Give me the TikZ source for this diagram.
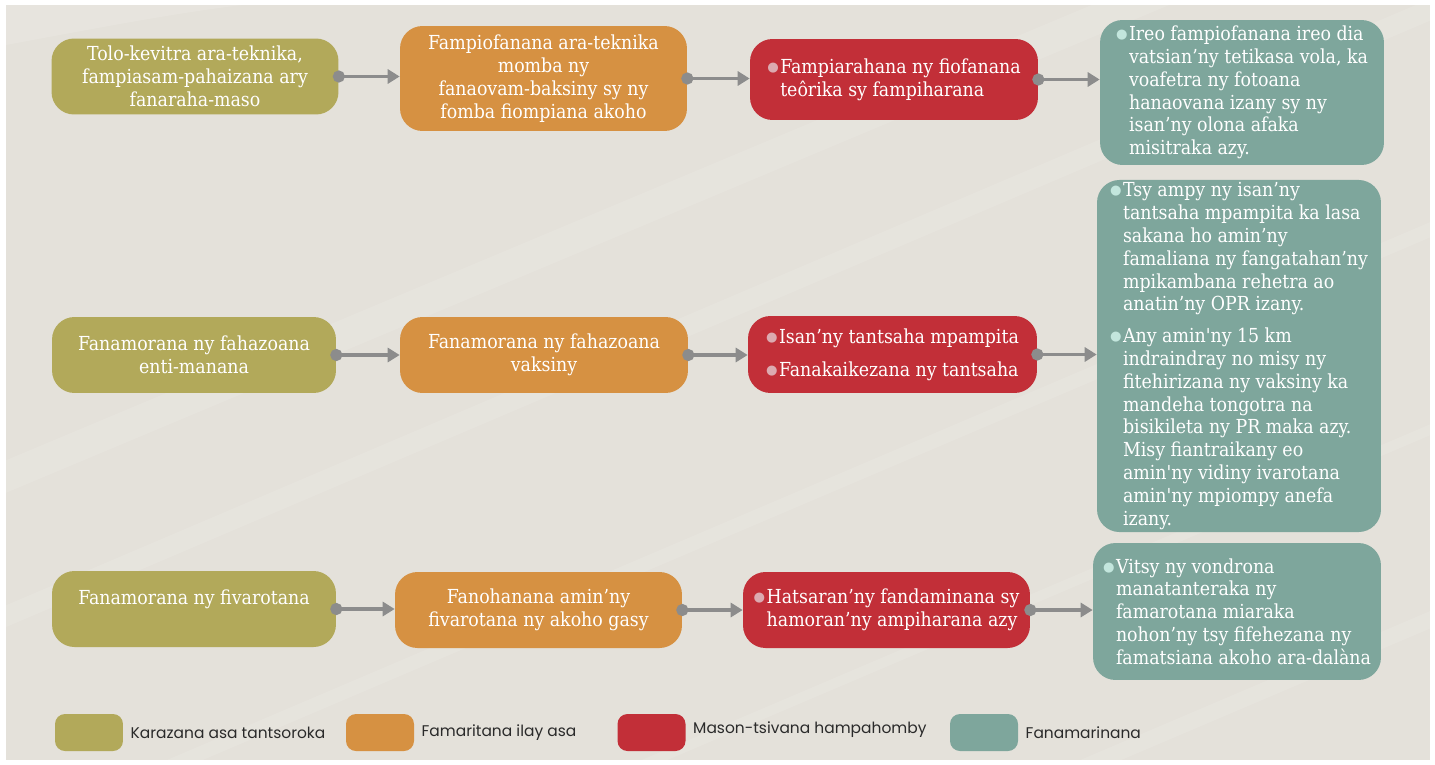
\documentclass[tikz,border=0pt]{standalone}
\usepackage{fontspec}
\newfontfamily\boxfont{DejaVu Serif Condensed}
\newfontfamily\legfont{Poppins}
\newfontfamily\dotfont{DejaVu Sans}
\usetikzlibrary{arrows.meta,positioning}

\definecolor{bgsand}{HTML}{E4E1DA}
\definecolor{colOlive}{HTML}{B2A95A}
\definecolor{colOrange}{HTML}{D69142}
\definecolor{colRed}{HTML}{C22F38}
\definecolor{colTeal}{HTML}{7EA69C}
\definecolor{dotRed}{HTML}{DCAAB0}
\definecolor{dotTeal}{HTML}{C3E6DD}
\definecolor{linkgray}{HTML}{8C8C8C}
\definecolor{legink}{HTML}{2A2A2A}

\newcommand\boxtext{\boxfont\fontsize{11}{13}\selectfont}
\newcommand\bdot[1]{\makebox[0.26cm][l]{\textcolor{#1}{\raisebox{0.2ex}{\dotfont\fontsize{7.5}{8}\selectfont ●}}}}
\newcommand\dotpad{\hspace*{0.26cm}}

\tikzset{
    stepbox/.style={rounded corners=0.45cm, text=white, font=\boxtext, align=center,
                    minimum width=5.74cm, minimum height=1.52cm, inner sep=0.12cm},
    kindbox/.style={stepbox, fill=colOlive},
    specbox/.style={stepbox, fill=colOrange},
    filtbox/.style={stepbox, fill=colRed, align=left},
    notebox/.style={stepbox, fill=colTeal, align=left, minimum width=5.68cm, inner ysep=0.05cm},
    keybox/.style={rounded corners=0.2cm, minimum width=1.36cm, minimum height=0.74cm},
    keytext/.style={text=legink, font=\legfont\fontsize{8.8}{10}\selectfont, inner sep=0pt}
}

\begin{document}
\begin{tikzpicture}[x=0.02cm, y=-0.02cm]
\useasboundingbox (0,0) rectangle (1435,764);

% background
\fill[bgsand] (6,5) rectangle (1430,760);
\begin{scope}
    \clip (6,5) rectangle (1430,760);
    \fill[white, opacity=0.12] (6,45) .. controls (300,-10) .. (700,5) -- (6,5) -- cycle;
    \foreach \sy/\ey/\w in {500/-150/30, 640/-20/20, 860/200/14, 1060/400/10, 1250/590/16}
        \draw[white, opacity=0.1, line width={\w*0.02cm}] (-50,\sy) -- (1500,\ey);
\end{scope}

\begin{scope}
    % row 1
    \node[kindbox] (c1) at (195,76.5) {Tolo-kevitra ara-teknika,\\ fampiasam-pahaizana ary\\ fanaraha-maso};
    \node[specbox, minimum height=2.1cm] (b1) at (543.5,78.5) {Fampiofanana ara-teknika\\ momba ny\\ fanaovam-baksiny sy ny\\ fomba fiompiana akoho};
    \node[filtbox, minimum width=5.76cm, minimum height=1.62cm] (r1) at (894,79.5) {\bdot{dotRed}Fampiarahana ny fiofanana\\ \dotpad teôrika sy fampiharana};
    \node[notebox, minimum height=2.9cm] (t1) at (1242,92.5) {\bdot{dotTeal}Ireo fampiofanana ireo dia\\ \dotpad vatsian’ny tetikasa vola, ka\\ \dotpad voafetra ny fotoana\\ \dotpad hanaovana izany sy ny\\ \dotpad isan’ny olona afaka\\ \dotpad misitraka azy.};

    % row 2
    \node[kindbox, minimum width=5.68cm] (c2) at (194,355) {Fanamorana ny fahazoana\\ enti-manana};
    \node[specbox, minimum width=5.76cm] (b2) at (544,355) {Fanamorana ny fahazoana\\ vaksiny};
    \node[filtbox, minimum width=5.78cm, minimum height=1.54cm] (r2) at (892.5,354.5) {\bdot{dotRed}Isan’ny tantsaha mpampita\\[6pt] \bdot{dotRed}Fanakaikezana ny tantsaha};
    \node[notebox, minimum height=7.04cm] (t2) at (1239,356) {\bdot{dotTeal}Tsy ampy ny isan’ny\\ \dotpad tantsaha mpampita ka lasa\\ \dotpad sakana ho amin’ny\\ \dotpad famaliana ny fangatahan’ny\\ \dotpad mpikambana rehetra ao\\ \dotpad anatin’ny OPR izany.\\[5pt] \bdot{dotTeal}Any amin'ny 15 km\\ \dotpad indraindray no misy ny\\ \dotpad fitehirizana ny vaksiny ka\\ \dotpad mandeha tongotra na\\ \dotpad bisikileta ny PR maka azy.\\ \dotpad Misy fiantraikany eo\\ \dotpad amin'ny vidiny ivarotana\\ \dotpad amin'ny mpiompy anefa\\ \dotpad izany.};

    % row 3
    \node[kindbox, minimum width=5.68cm] (c3) at (194,609) {Fanamorana ny fivarotana\\ \mbox{}};
    \node[specbox] (b3) at (538.5,610) {Fanohanana amin’ny\\ fivarotana ny akoho gasy};
    \node[filtbox] (r3) at (886.5,610) {\bdot{dotRed}Hatsaran’ny fandaminana sy\\ \dotpad hamoran’ny ampiharana azy};
    \node[notebox, minimum width=5.76cm, minimum height=2.74cm] (t3) at (1237,611.5) {\bdot{dotTeal}Vitsy ny vondrona\\ \dotpad manatanteraka ny\\ \dotpad famarotana miaraka\\ \dotpad nohon’ny tsy fifehezana ny\\ \dotpad famatsiana akoho ara-dalàna};
\end{scope}

\begin{scope}[>={Triangle[length=0.24cm,width=0.28cm]},
              every edge/.style={draw=linkgray, line width=0.07cm, shorten <=-0.12cm}]
    \path [{Circle[length=0.24cm]}->] (c1.east) edge (c1.east -| b1.west);
    \path [{Circle[length=0.24cm]}->] (b1.east) edge (b1.east -| r1.west);
    \path [{Circle[length=0.24cm]}->] (r1.east) edge (r1.east -| t1.west);

    \path [{Circle[length=0.24cm]}->] (c2.east) edge (c2.east -| b2.west);
    \path [{Circle[length=0.24cm]}->] (b2.east) edge (b2.east -| r2.west);
    \path [{Circle[length=0.24cm]}->] (r2.east) edge (r2.east -| t2.west);

    \path [{Circle[length=0.24cm]}->] (c3.east) edge (c3.east -| b3.west);
    \path [{Circle[length=0.24cm]}->] (b3.east) edge (b3.east -| r3.west);
    \path [{Circle[length=0.24cm]}->] (r3.east) edge (r3.east -| t3.west);
\end{scope}

% legend
\node[keybox, fill=colOlive] (k1) at (89,732.5) {};
\node[keybox, fill=colOrange] (k2) at (380,732.5) {};
\node[keybox, fill=colRed] (k3) at (651.5,732.5) {};
\node[keybox, fill=colTeal] (k4) at (984,732.5) {};
\node[keytext, right=0.14cm of k1] (kt1) {Karazana asa tantsoroka};
\node[keytext, right=0.14cm of k2] (kt2) {Famaritana ilay asa};
\node[keytext, right=0.14cm of k3, yshift=0.05cm] (kt3) {Mason-tsivana hampahomby};
\node[keytext, right=0.14cm of k4] (kt4) {Fanamarinana};
\end{tikzpicture}
\end{document}
